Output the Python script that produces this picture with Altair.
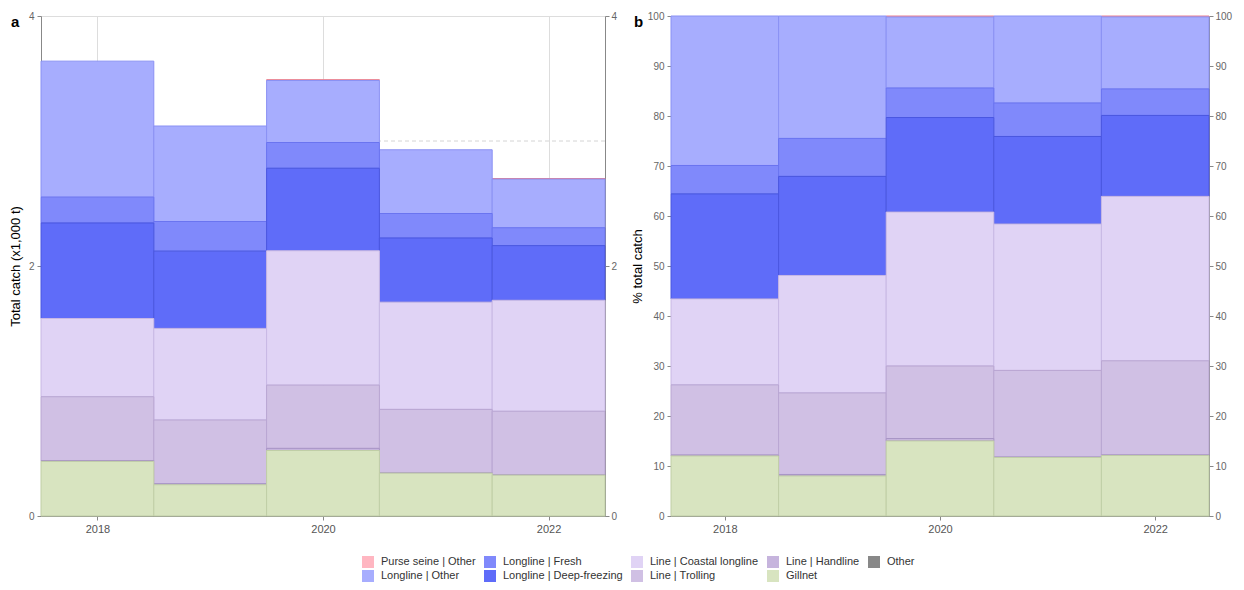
import altair as alt
import pandas as pd

years = [2018, 2019, 2020, 2021, 2022]
purse_seine_other = [0.0, 0.0, 0.007, 0.0, 0.005]
longline_other = [1.088, 0.764, 0.496, 0.510, 0.389]
longline_fresh = [0.207, 0.237, 0.206, 0.196, 0.143]
longline_deep = [0.764, 0.618, 0.660, 0.513, 0.437]
line_coastal = [0.626, 0.733, 1.075, 0.858, 0.888]
line_trolling = [0.510, 0.509, 0.506, 0.507, 0.508]
line_handline = [0.007, 0.009, 0.017, 0.003, 0.003]
gillnet = [0.437, 0.250, 0.524, 0.343, 0.327]
other = [0.0, 0.0, 0.0, 0.0, 0.0]

gears = ["Purse seine | Other", "Longline | Other", "Longline | Fresh",
         "Longline | Deep-freezing", "Line | Coastal longline", "Line | Trolling",
         "Line | Handline", "Gillnet", "Other"]
series = [purse_seine_other, longline_other, longline_fresh, longline_deep,
          line_coastal, line_trolling, line_handline, gillnet, other]
fills = ["#ffb6c1", "#a7adfe", "#8089fb", "#5f6cf9", "#e0d3f5", "#d0c0e4",
         "#c6b4dd", "#d8e4c0", "#888888"]
strokes = ["#e87f8f", "#8a91f3", "#6a74f0", "#4a57e0", "#c8b8e4", "#b9a6d2",
           "#a996c6", "#c0cea6", "#666666"]

rows = []
for gi, (g, vals) in enumerate(zip(gears, series)):
    for y, v in zip(years, vals):
        rows.append({"year": y, "gear": g, "value": v, "ord": gi})
df = pd.DataFrame(rows)

grid_lines = [1, 3]
FONT = "Arial"

color = alt.Color("gear:N", scale=alt.Scale(domain=gears, range=fills),
                  legend=alt.Legend(title=None, orient="none", legendX=321, legendY=540,
                                    columns=5, symbolType="square", symbolSize=144,
                                    symbolStrokeWidth=0, labelFontSize=11,
                                    labelColor="#333333", labelFont=FONT,
                                    labelOffset=7, columnPadding=8, rowPadding=2,
                                    labelLimit=300))
stroke = alt.Stroke("gear:N", scale=alt.Scale(domain=gears, range=strokes), legend=None)

xscale = alt.Scale(domain=[2017.5, 2022.5], nice=False, zero=False)
xaxis = alt.Axis(values=[2018, 2020, 2022], format="d", title=None, grid=True,
                 gridColor="#dddddd", labelFontSize=11, labelColor="#555555",
                 tickColor="#888888", domainColor="#888888", tickSize=4, labelPadding=3)


def panel(offset, ymax, yvals, ytitle, letter, width, gridvals, tpad, lx):
    mult = 100 if offset == "normalize" else 1
    base = alt.Chart(df).transform_filter("datum.value > 0").transform_stack(
        stack="value", groupby=["year"], as_=["y0", "y1"],
        sort=[alt.SortField("ord", order="descending")], offset=offset
    ).transform_calculate(
        x0="datum.year - 0.5", x1="datum.year + 0.5",
        ya=f"datum.y0 * {mult}", yb=f"datum.y1 * {mult}",
    )
    yscale = alt.Scale(domain=[0, ymax], nice=False)
    yaxis_left = alt.Axis(values=yvals, title=ytitle, grid=False, labelFontSize=10,
                          labelColor="#666666", tickColor="#888888", domainColor="#888888",
                          tickSize=4, titleFontSize=13, titleFontWeight="normal",
                          titleColor="#000000", titlePadding=tpad, labelPadding=3)
    yaxis_right = alt.Axis(values=yvals, title=None, orient="right", grid=False,
                           labelFontSize=10, labelColor="#666666", tickColor="#888888",
                           domainColor="#888888", tickSize=4, labelPadding=2)
    gridlayer = alt.Chart(pd.DataFrame({"v": gridvals})).mark_rule(
        color="#d4d4d4", strokeDash=[4, 3], strokeWidth=1
    ).encode(y=alt.Y("v:Q", scale=yscale, axis=yaxis_right))
    bars = base.mark_rect(strokeWidth=1).encode(
        x=alt.X("x0:Q", scale=xscale, axis=xaxis),
        x2="x1:Q",
        y=alt.Y("ya:Q", scale=yscale, axis=yaxis_left),
        y2="yb:Q",
        color=color,
        stroke=stroke,
    )
    label = alt.Chart(pd.DataFrame({"t": [letter]})).mark_text(
        fontWeight="bold", fontSize=15, font=FONT, align="left", baseline="middle",
        color="#000000"
    ).encode(text="t:N", x=alt.value(lx), y=alt.value(6))
    return alt.layer(gridlayer, bars, label).resolve_axis(y="independent").properties(
        width=width, height=500)


left = panel("zero", 4, [0, 2, 4], "Total catch (x1,000 t)", "a", 564, grid_lines, 6, -30)
right = panel("normalize", 100, list(range(0, 101, 10)), "% total catch", "b", 538, [], 3, -37)

chart = alt.hconcat(left, right, spacing=12).properties(
    padding={"top": 2, "left": 0, "right": 0, "bottom": 0}
).configure_view(
    stroke="#aaaaaa", strokeWidth=1
).configure_axis(labelFont=FONT, titleFont=FONT).configure(font=FONT)

chart.save("out.html", embed_options={"renderer": "svg", "actions": False})
